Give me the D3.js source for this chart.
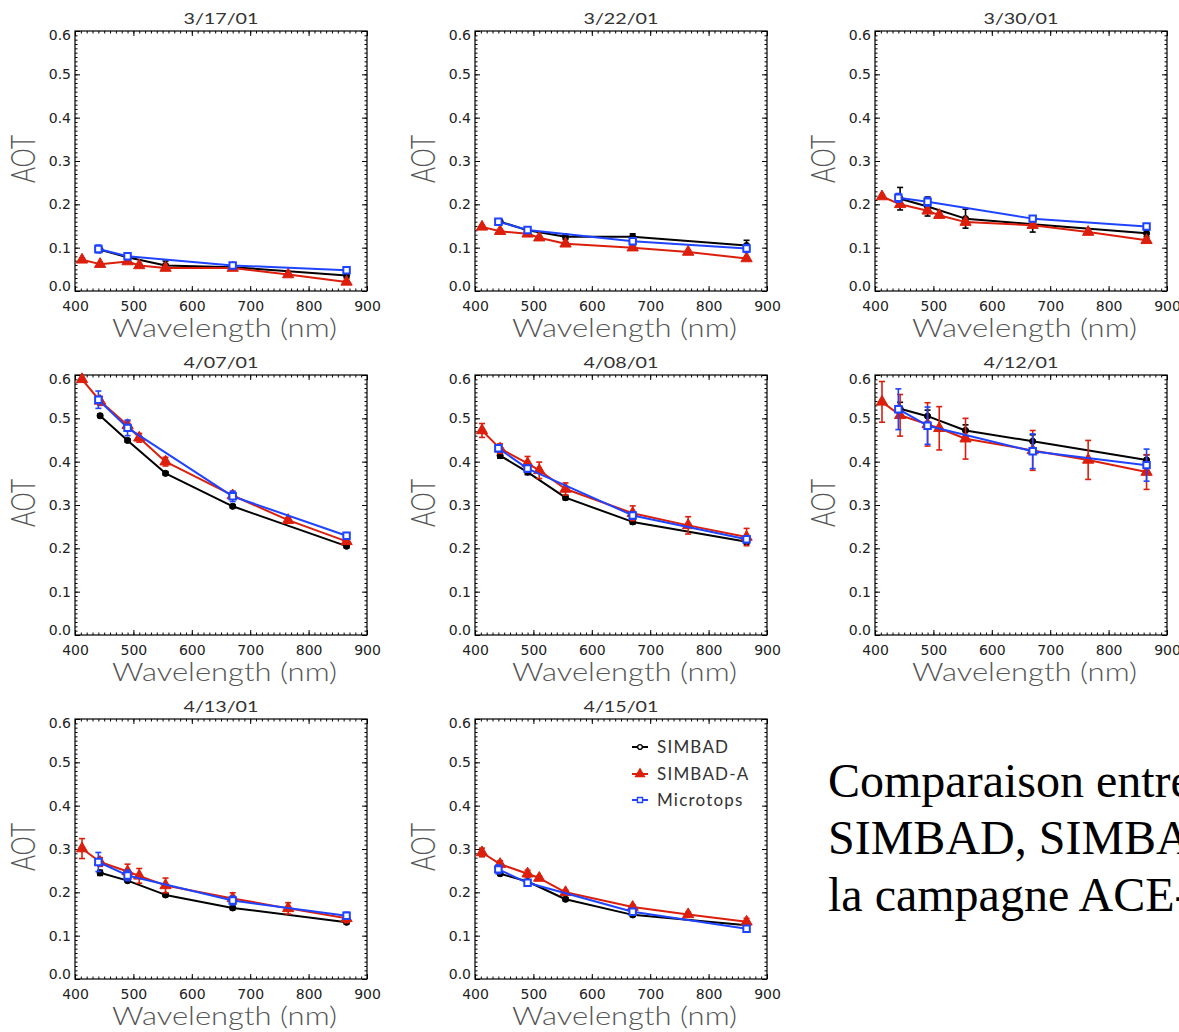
<!DOCTYPE html>
<meta charset="utf-8">
<style>
  body { margin: 0; background: #fff; overflow: hidden; }
  svg { display: block; }
</style>
<div id="container"></div>
<script src="https://cdn.jsdelivr.net/npm/d3@7"></script>
<script>

// one panel per day
const dates = ["3/17/01", "3/22/01", "3/30/01", "4/07/01", "4/08/01", "4/12/01", "4/13/01", "4/15/01"];

const seriesNames = ["SIMBAD", "SIMBAD-A", "Microtops"];

// wavelengths (nm) of each instrument
const wlSimbad = [443, 490, 555, 670, 865];
const wlSimbadA = [412, 443, 490, 510, 555, 670, 765, 865];
const wlMicrotops = [440, 490, 670, 865];

// AOT, one row per date
const aotSimbad = [
  [0.095, 0.078, 0.059, 0.055, 0.036],
  [0.160, 0.140, 0.125, 0.125, 0.105],
  [0.213, 0.195, 0.167, 0.154, 0.133],
  [0.506, 0.449, 0.373, 0.297, 0.205],
  [0.414, 0.376, 0.317, 0.261, 0.215],
  [0.522, 0.505, 0.472, 0.447, 0.404],
  [0.245, 0.227, 0.194, 0.164, 0.131],
  [0.243, 0.225, 0.184, 0.148, 0.124]
];
const errSimbad = [
  [0.000, 0.004, 0.010, 0.005, 0.006],
  [0.004, 0.004, 0.006, 0.007, 0.012],
  [0.026, 0.022, 0.022, 0.018, 0.008],
  [0.004, 0.004, 0.004, 0.004, 0.004],
  [0.006, 0.006, 0.005, 0.005, 0.005],
  [0.015, 0.014, 0.013, 0.015, 0.012],
  [0.006, 0.004, 0.004, 0.004, 0.004],
  [0.004, 0.004, 0.004, 0.004, 0.004]
];

const aotSimbadA = [
  [0.072, 0.062, 0.068, 0.059, 0.053, 0.053, 0.038, 0.021],
  [0.148, 0.138, 0.132, 0.123, 0.109, 0.100, 0.090, 0.075],
  [0.218, 0.200, 0.185, 0.175, 0.159, 0.152, 0.136, 0.117],
  [0.590, 0.540, 0.484, 0.455, 0.400, 0.322, 0.265, 0.216],
  [0.472, 0.430, 0.396, 0.380, 0.337, 0.281, 0.253, 0.226],
  [0.538, 0.507, 0.486, 0.477, 0.453, 0.426, 0.404, 0.376],
  [0.301, 0.270, 0.248, 0.238, 0.216, 0.186, 0.163, 0.140],
  [0.292, 0.265, 0.243, 0.233, 0.200, 0.166, 0.149, 0.132]
];
const errSimbadA = [
  [0.003, 0.003, 0.003, 0.003, 0.003, 0.003, 0.003, 0.003],
  [0.003, 0.003, 0.003, 0.003, 0.003, 0.003, 0.003, 0.003],
  [0.004, 0.004, 0.004, 0.004, 0.004, 0.004, 0.004, 0.004],
  [0.004, 0.010, 0.010, 0.010, 0.010, 0.008, 0.006, 0.005],
  [0.016, 0.011, 0.016, 0.019, 0.014, 0.017, 0.020, 0.020],
  [0.047, 0.048, 0.050, 0.050, 0.047, 0.046, 0.045, 0.040],
  [0.023, 0.010, 0.017, 0.017, 0.017, 0.013, 0.013, 0.010],
  [0.010, 0.008, 0.008, 0.005, 0.005, 0.005, 0.005, 0.008]
];

const aotMicrotops = [
  [0.097, 0.080, 0.059, 0.048],
  [0.160, 0.141, 0.115, 0.098],
  [0.215, 0.206, 0.167, 0.149],
  [0.543, 0.478, 0.320, 0.229],
  [0.431, 0.384, 0.276, 0.221],
  [0.521, 0.483, 0.424, 0.392],
  [0.270, 0.239, 0.181, 0.146],
  [0.253, 0.222, 0.155, 0.116]
];
const errMicrotops = [
  [0.009, 0.005, 0.005, 0.005],
  [0.004, 0.004, 0.005, 0.009],
  [0.010, 0.010, 0.006, 0.005],
  [0.020, 0.018, 0.012, 0.007],
  [0.008, 0.008, 0.008, 0.008],
  [0.047, 0.043, 0.040, 0.037],
  [0.022, 0.012, 0.010, 0.008],
  [0.010, 0.006, 0.005, 0.005]
];

const xTicks = [400, 500, 600, 700, 800, 900];
const yTicks = [0, 0.1, 0.2, 0.3, 0.4, 0.5, 0.6];

const captionLines = [
  "Comparaison entre les mesures",
  "SIMBAD, SIMBAD-A et Microtops pendant",
  "la campagne ACE-Asia"
];

// ---- layout
const width = 1179, height = 1032;
const panelW = 292, panelH = 260;
const red = "#dc1f0c", blue = "#1f44ff";

const styles = [
  { color: "#000", symbol: d3.symbolCircle, size: 30 },
  { color: red, symbol: d3.symbolTriangle, size: 55 },
  { color: blue, symbol: d3.symbolSquare, size: 42 }
];

const x = d3.scaleLinear().domain([400, 900]).range([0, panelW]);
const y = d3.scaleLinear().domain([0, 0.6]).range([panelH, 0]);

const svg = d3.create("svg")
    .attr("width", width)
    .attr("height", height);

svg.append("rect").attr("width", width).attr("height", height).attr("fill", "#fff");

const line = d3.line().x(d => x(d.wl)).y(d => y(d.v));

function seriesFor(i) {
  return [
    { wl: wlSimbad, v: aotSimbad[i], e: errSimbad[i] },
    { wl: wlSimbadA, v: aotSimbadA[i], e: errSimbadA[i] },
    { wl: wlMicrotops, v: aotMicrotops[i], e: errMicrotops[i] }
  ].map((s, k) => ({ ...s, style: styles[k], pts: s.wl.map((w, j) => ({ wl: w, v: s.v[j], e: s.e[j] })) }));
}

dates.forEach((date, i) => {
  const col = i % 3, row = Math.floor(i / 3);
  const g = svg.append("g").attr("transform", `translate(${75 + col * 400},${31 + row * 344})`);

  // minor ticks, all four sides
  const minorX = d3.range(400, 901, 10), minorY = d3.range(0, 0.601, 0.01);
  g.append("g").attr("transform", `translate(0,${panelH})`)
    .call(d3.axisBottom(x).tickValues(minorX).tickSizeInner(-2.5).tickSizeOuter(0).tickFormat(""));
  g.append("g").call(d3.axisTop(x).tickValues(minorX).tickSizeInner(-2.5).tickSizeOuter(0).tickFormat(""));
  g.append("g").call(d3.axisLeft(y).tickValues(minorY).tickSizeInner(-2.5).tickSizeOuter(0).tickFormat(""));
  g.append("g").attr("transform", `translate(${panelW},0)`)
    .call(d3.axisRight(y).tickValues(minorY).tickSizeInner(-2.5).tickSizeOuter(0).tickFormat(""));

  // major ticks
  g.append("g").attr("transform", `translate(0,${panelH})`)
    .call(d3.axisBottom(x).tickValues(xTicks).tickSizeInner(-5).tickSizeOuter(0).tickPadding(10).tickFormat(d3.format("d")));
  g.append("g").call(d3.axisTop(x).tickValues(xTicks).tickSizeInner(-5).tickSizeOuter(0).tickFormat(""));
  const ya = g.append("g")
    .call(d3.axisLeft(y).tickValues(yTicks).tickSizeInner(-5).tickSizeOuter(0).tickPadding(4).tickFormat(d3.format(".1f")));
  g.append("g").attr("transform", `translate(${panelW},0)`)
    .call(d3.axisRight(y).tickValues(yTicks).tickSizeInner(-5).tickSizeOuter(0).tickFormat(""));

  g.selectAll(".domain").remove();
  g.selectAll(".tick line").attr("stroke", "#000");
  g.selectAll(".tick text").attr("font-family", "DejaVu Sans").attr("font-size", 14).attr("fill", "#222");
  // end labels sit slightly inside the frame
  ya.selectAll(".tick text").filter(d => d === 0).attr("dy", "-0.02em");
  ya.selectAll(".tick text").filter(d => d === 0.6).attr("dy", "0.62em");

  // frame
  g.append("rect").attr("width", panelW).attr("height", panelH)
    .attr("fill", "none").attr("stroke", "#000").attr("stroke-width", 1.2);

  // title
  g.append("text").attr("x", panelW / 2).attr("y", -7)
    .attr("text-anchor", "middle").attr("font-family", "Lato").attr("font-size", 16)
    .attr("fill", "#333").attr("textLength", 75).attr("lengthAdjust", "spacingAndGlyphs")
    .text(date);

  // axis titles
  g.append("text").attr("x", panelW / 2 + 3.5).attr("y", panelH + 46)
    .attr("text-anchor", "middle").attr("font-family", "Lato").attr("font-weight", 300)
    .attr("font-size", 25).attr("fill", "#555")
    .attr("textLength", 225).attr("lengthAdjust", "spacingAndGlyphs")
    .text("Wavelength (nm)");
  g.append("text").attr("transform", `translate(${-53},${panelH / 2 - 2}) rotate(-90)`)
    .attr("text-anchor", "middle").attr("dominant-baseline", "central")
    .attr("font-family", "Lato").attr("font-weight", 300)
    .attr("font-size", 33).attr("fill", "#555")
    .attr("textLength", 48).attr("lengthAdjust", "spacingAndGlyphs")
    .text("AOT");

  // series: black, red, blue
  seriesFor(i).forEach(s => {
    const c = s.style.color;
    const sg = g.append("g");
    sg.append("path").attr("d", line(s.pts)).attr("fill", "none")
      .attr("stroke", c).attr("stroke-width", 2).attr("stroke-linejoin", "round");
    const eb = sg.selectAll(".eb").data(s.pts.filter(p => p.e > 0)).join("g")
      .attr("stroke", c).attr("stroke-width", 1.6);
    eb.append("line").attr("x1", d => x(d.wl)).attr("x2", d => x(d.wl))
      .attr("y1", d => y(d.v - d.e)).attr("y2", d => y(d.v + d.e));
    eb.append("line").attr("x1", d => x(d.wl) - 3).attr("x2", d => x(d.wl) + 3)
      .attr("y1", d => y(d.v - d.e)).attr("y2", d => y(d.v - d.e));
    eb.append("line").attr("x1", d => x(d.wl) - 3).attr("x2", d => x(d.wl) + 3)
      .attr("y1", d => y(d.v + d.e)).attr("y2", d => y(d.v + d.e));
    sg.selectAll(".mk").data(s.pts).join("path")
      .attr("transform", d => `translate(${x(d.wl)},${y(d.v)})`)
      .attr("d", d3.symbol(s.style.symbol, s.style.size))
      .attr("fill", s.style.symbol === d3.symbolSquare ? "#fff" : c)
      .attr("stroke", c).attr("stroke-width", s.style.symbol === d3.symbolSquare ? 2 : 1);
  });

  // legend only on the last panel
  if (i === dates.length - 1) {
    const lg = g.append("g").attr("transform", "translate(157,28)");
    seriesNames.forEach((name, k) => {
      const st = styles[k];
      const r = lg.append("g").attr("transform", `translate(0,${[0, 27, 53][k]})`);
      r.append("line").attr("x1", 0).attr("x2", 16).attr("stroke", st.color).attr("stroke-width", 2);
      r.append("path").attr("transform", "translate(8,0)")
        .attr("d", d3.symbol(st.symbol, st.size * 0.6))
        .attr("fill", k === 1 ? st.color : "#fff").attr("stroke", st.color).attr("stroke-width", 1.4);
      r.append("text").attr("x", 25).attr("dy", "0.36em")
        .attr("font-family", "Lato").attr("font-size", 17).attr("letter-spacing", 1.2)
        .attr("fill", "#333").text(name);
    });
  }
});

// caption, runs off the right edge as in the source slide
const cap = svg.append("g").attr("font-family", "Liberation Serif").attr("font-size", 48).attr("fill", "#000");
captionLines.forEach((t, k) => {
  cap.append("text").attr("x", 828).attr("y", 797 + k * 57).text(t);
});

container.append(svg.node());
</script>
